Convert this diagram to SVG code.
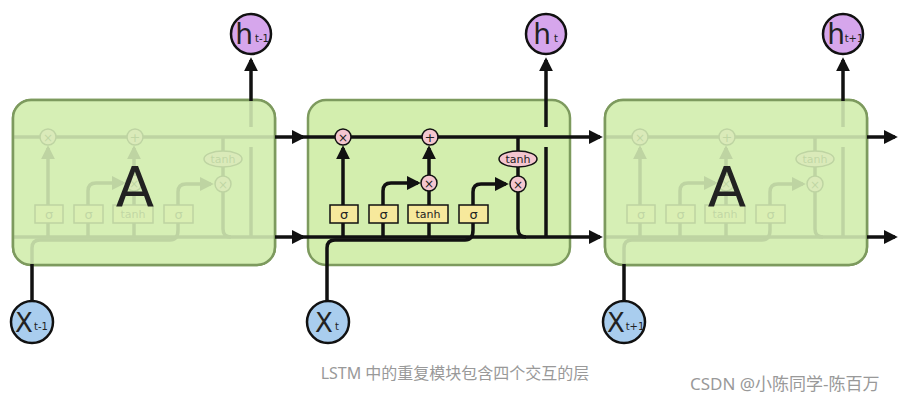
<svg xmlns="http://www.w3.org/2000/svg" width="922" height="402" viewBox="0 0 922 402">
<style>
.box{fill:#d3eeae;stroke:#7d9a5e;stroke-width:2.5}
.fade{fill:#d6efb6;fill-opacity:0.88;stroke:#7d9a5e;stroke-width:2.5}
.ln{fill:none;stroke:#111;stroke-width:3.5}
.op{fill:#f4c6cf;stroke:#111;stroke-width:1.5}
.gate{fill:#f7e99c;stroke:#111;stroke-width:1.5}
.t{font-family:"DejaVu Sans",sans-serif;fill:#222;text-anchor:middle}
.h{fill:#d6a6ec;stroke:#111;stroke-width:2.5}
.x{fill:#a9cdee;stroke:#111;stroke-width:2.5}
.cap{font-family:"Noto Sans","Noto Sans CJK SC",sans-serif;fill:#999}
</style>
<defs>
<marker id="ar" viewBox="0 0 10 10" refX="8" refY="5" markerWidth="4" markerHeight="4" orient="auto"><path d="M0,0L10,5L0,10z" fill="#111"/></marker>
<clipPath id="clip"><rect x="308" y="100" width="262" height="165" rx="18"/></clipPath>
<g id="cell">
<g class="ln">
<line x1="300" y1="137" x2="600" y2="137" marker-end="url(#ar)"/>
<path d="M300,237H600" marker-end="url(#ar)"/>
<path d="M327,300V248Q327,240 335,240H465Q473,240 473,230V192Q473,184 481,184H506" marker-end="url(#ar)"/>
<path d="M343,237V148" marker-end="url(#ar)"/>
<path d="M383,237V191Q383,183 391,183H418" marker-end="url(#ar)"/>
<path d="M429,237V191"/>
<path d="M429,176V148" marker-end="url(#ar)"/>
<path d="M518,137V176"/>
<path d="M518,192V229Q518,237 526,237"/>
<path d="M546,237V147"/>
<path d="M546,127V60" marker-end="url(#ar)"/>
</g>
<circle class="op" cx="343" cy="137" r="8"/><text class="t" x="343" y="141.5" font-size="12">×</text>
<circle class="op" cx="430" cy="137" r="8"/><text class="t" x="430" y="141.5" font-size="13">+</text>
<circle class="op" cx="429" cy="183" r="8"/><text class="t" x="429" y="187.5" font-size="12">×</text>
<circle class="op" cx="518" cy="184" r="8"/><text class="t" x="518" y="188.5" font-size="12">×</text>
<ellipse class="op" cx="518" cy="159" rx="19" ry="8"/><text class="t" x="518" y="163" font-size="11">tanh</text>
<rect class="gate" x="330" y="205" width="28" height="18"/><text class="t" x="344" y="219" font-size="13">σ</text>
<rect class="gate" x="369" y="205" width="29" height="18"/><text class="t" x="383.5" y="219" font-size="13">σ</text>
<rect class="gate" x="408" y="205" width="40" height="18"/><text class="t" x="428" y="218" font-size="11">tanh</text>
<rect class="gate" x="459" y="205" width="29" height="18"/><text class="t" x="473.5" y="219" font-size="13">σ</text>
</g>
</defs>
<g id="module-left">
<rect class="box" x="13" y="100" width="262" height="165" rx="18"/>
<use href="#cell" transform="translate(-295,0)" clip-path="url(#clip)"/>
<rect class="fade" x="13" y="100" width="262" height="165" rx="18"/>
<text class="t" x="135" y="206" font-size="56" fill="#111">A</text>
</g>
<g id="module-right">
<rect class="box" x="605" y="100" width="262" height="165" rx="18"/>
<use href="#cell" transform="translate(297,0)" clip-path="url(#clip)"/>
<rect class="fade" x="605" y="100" width="262" height="165" rx="18"/>
<text class="t" x="727" y="206" font-size="56" fill="#111">A</text>
</g>
<g id="connectors" class="ln">
<line x1="275" y1="137" x2="303" y2="137" marker-end="url(#ar)"/>
<line x1="275" y1="237" x2="303" y2="237" marker-end="url(#ar)"/>
<line x1="867" y1="137" x2="895" y2="137" marker-end="url(#ar)"/>
<line x1="867" y1="237" x2="895" y2="237" marker-end="url(#ar)"/>
<line x1="251" y1="101" x2="251" y2="60" marker-end="url(#ar)"/>
<line x1="843" y1="101" x2="843" y2="60" marker-end="url(#ar)"/>
<line x1="32" y1="264" x2="32" y2="300"/>
<line x1="624" y1="264" x2="624" y2="300"/>
</g>
<g id="module-mid">
<rect class="box" x="308" y="100" width="262" height="165" rx="18"/>
<use href="#cell"/>
</g>
<g id="h-prev"><circle class="h" cx="251" cy="34" r="20"/><text class="t" x="244" y="44" font-size="28">h</text><text class="t" x="262" y="42" font-size="10">t-1</text></g>
<g id="h-cur"><circle class="h" cx="546" cy="34" r="20"/><text class="t" x="542" y="44" font-size="28">h</text><text class="t" x="556" y="42" font-size="10">t</text></g>
<g id="h-next"><circle class="h" cx="843" cy="34" r="20"/><text class="t" x="836" y="44" font-size="28">h</text><text class="t" x="854" y="42" font-size="10">t+1</text></g>
<g id="x-prev"><circle class="x" cx="32" cy="322" r="21"/><text class="t" x="24" y="332" font-size="26">X</text><text class="t" x="41" y="330" font-size="10">t-1</text></g>
<g id="x-cur"><circle class="x" cx="328" cy="322" r="21"/><text class="t" x="324" y="332" font-size="26">X</text><text class="t" x="337" y="330" font-size="10">t</text></g>
<g id="x-next"><circle class="x" cx="624" cy="322" r="21"/><text class="t" x="616" y="332" font-size="26">X</text><text class="t" x="635" y="330" font-size="10">t+1</text></g>
<text class="cap" x="455" y="379" font-size="16" text-anchor="middle">LSTM 中的重复模块包含四个交互的层</text>
<text class="cap" x="690" y="390" font-size="17" fill="#aaa">CSDN @小陈同学-陈百万</text>
</svg>
